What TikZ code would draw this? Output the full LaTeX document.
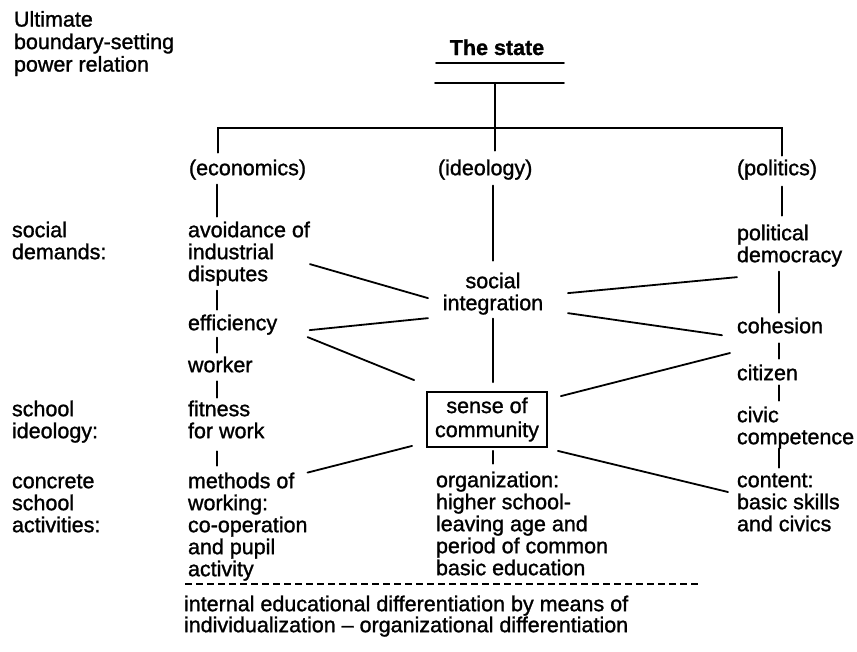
\documentclass[tikz,border=0pt]{standalone}
\usepackage{fontspec}
\setmainfont{Liberation Sans}[FakeBold=1.2]
\newcommand\lph{\vphantom{l}}
\begin{document}
\begin{tikzpicture}[x=1pt,y=-1pt,
  txt/.style={font=\fontsize{21.5}{22}\selectfont, inner sep=0pt, outer sep=0pt, align=left, anchor=north west},
  conn/.style={line width=1.8pt, line cap=round},
  vlink/.style={conn, shorten <=5pt, shorten >=5pt}]
\useasboundingbox (0,0) rectangle (857,651);

% texts
\node[txt, font=\fontsize{21.5}{22.5}\selectfont] (ult) at (14,11) {\lph Ultimate\\boundary-setting\\power relation};
\node[font=\bfseries\fontsize{21.5}{22}\selectfont, inner sep=0pt, anchor=base] (state) at (497,55) {The state};
\node[txt] (econ) at (189,159.6) {\lph(economics)};
\node[txt] (ideo) at (438,159.6) {\lph(ideology)};
\node[txt] (poli) at (737,159.6) {\lph(politics)};

\node[txt] (lab1) at (12,221.6) {\lph social\\demands:};
\node[txt] (lab2) at (12,400.6) {\lph school\\ideology:};
\node[txt] (lab3) at (12,472.6) {\lph concrete\\school\\activities:};

\node[txt] (avoid) at (188,221.6) {\lph avoidance of\\industrial\\disputes};
\node[txt] (effic) at (188,314.6) {\lph efficiency};
\node[txt] (worker) at (188,356.6) {\lph worker};
\node[txt] (fitness) at (188,400.6) {\lph fitness\\for work};
\node[txt] (methods) at (188,472.6) {\lph methods of\\working:\\co-operation\\and pupil\\activity};

\node[txt, align=center, anchor=north] (socint) at (493,272.6) {\lph social\\integration};
\node[font=\fontsize{21.5}{24}\selectfont, inner sep=0pt, align=center, draw, line width=1.8pt,
      minimum width=120pt, minimum height=55pt] (sense) at (487,419.5) {\lph sense of\\community};
\node[txt] (org) at (436,471.6) {\lph organization:\\higher school-\\leaving age and\\period of common\\basic education};

\node[txt] (polit) at (737,224.6) {\lph political\\democracy};
\node[txt] (cohes) at (737,317.6) {\lph cohesion};
\node[txt] (citiz) at (737,364.6) {\lph citizen};
\node[txt] (civic) at (737,406.6) {\lph civic\\competence};
\node[txt] (content) at (737,471.6) {\lph content:\\basic skills\\and civics};

\node[txt, font=\fontsize{21.5}{21}\selectfont] (bottom) at (184,595.6) {\lph internal educational differentiation by means of\\individualization -- organizational differentiation};

% state bars and tree
\coordinate (u1) at (436,63); \coordinate (u2) at (564,63);
\coordinate (b1) at (435,83); \coordinate (b2) at (564,83);
\coordinate (bm) at (495,83);
\draw[conn] (u1) -- (u2);
\draw[conn] (b1) -- (b2);
\draw[conn, shorten >=9pt] (bm) -- (ideo.north -| bm);
\coordinate (hl) at (218,128); \coordinate (hr) at (782,128);
\draw[conn, shorten <=7pt, shorten >=4pt] (econ.north -| hl) -- (hl) -- (hr) -- (poli.north -| hr);

% column x positions
\coordinate (ecx) at (217,0);
\coordinate (idx) at (493,0);
\coordinate (pox) at (779,0);

\draw[vlink] (econ.south -| ecx) -- (avoid.north -| ecx);
\draw[vlink] (avoid.south -| ecx) -- (effic.north -| ecx);
\draw[vlink, shorten <=3pt, shorten >=4pt] (effic.south -| ecx) -- (worker.north -| ecx);
\draw[vlink, shorten <=9pt, shorten >=3pt] (worker.south -| ecx) -- (fitness.north -| ecx);
\draw[vlink, shorten <=13pt, shorten >=7pt] (fitness.south -| ecx) -- (methods.north -| ecx);

\draw[vlink, shorten <=6pt, shorten >=12pt] (ideo.south -| idx) -- (socint.north -| idx);
\draw[vlink, shorten <=4pt, shorten >=9pt] (socint.south -| idx) -- (sense.north -| idx);
\draw[vlink, shorten <=3pt, shorten >=8pt] (sense.south -| idx) -- (org.north -| idx);

\draw[vlink, shorten <=7pt, shorten >=9pt] (poli.south -| hr) -- (polit.north -| hr);
\draw[vlink] (polit.south -| pox) -- (cohes.north -| pox);
\draw[vlink, shorten <=10pt, shorten >=6pt] (cohes.south -| pox) -- (citiz.north -| pox);
\draw[vlink, shorten <=5pt, shorten >=6pt] (citiz.south -| pox) -- (civic.north -| pox);
\draw[vlink, shorten <=0pt, shorten >=4pt] (civic.south -| pox) -- (content.north -| pox);

% diagonal connectors
\draw[conn] ([shift={(0,10.5)}]avoid.east) -- ([shift={(-14.8,4.5)}]socint.west);
\draw[conn] ([shift={(32.4,5.5)}]effic.east) -- ([shift={(-14.8,3.5)}]socint.south west);
\draw[conn] ([shift={(30.4,12.5)}]effic.east) -- ([shift={(-12,-11)}]sense.north west);
\draw[conn] ([shift={(-14,-2)}]sense.south west) -- (methods.north east);
\draw[conn] ([shift={(24.8,-0.5)}]socint.east) -- ([shift={(0,10.5)}]polit.south west);
\draw[conn] ([shift={(24.8,-1.5)}]socint.south east) -- ([shift={(-15,9.7)}]cohes.west);
\draw[conn] ([shift={(13,5)}]sense.north east) -- ([shift={(-7,-11.6)}]citiz.north west);
\draw[conn] ([shift={(10,3)}]sense.south east) -- ([shift={(-9,20.4)}]content.north west);

% dashed separator
\coordinate (d1) at (185,584); \coordinate (d2) at (698,584);
\draw[line width=1.6pt, dash pattern=on 7pt off 4pt] (d1) -- (d2);
\end{tikzpicture}
\end{document}
